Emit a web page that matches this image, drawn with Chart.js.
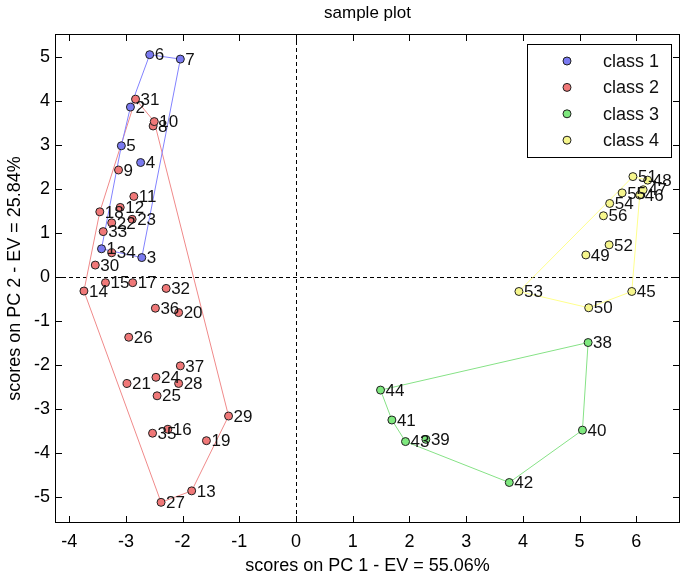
<!DOCTYPE html>
<html>
<head>
<meta charset="utf-8">
<script src="https://cdn.jsdelivr.net/npm/chart.js@4"></script>
<style>
  html, body { margin: 0; padding: 0; background: #fff; }
  #wrap { width: 685px; height: 577px; }
</style>
</head>
<body>
<div id="wrap"><canvas id="pcaChart"></canvas></div>
<script>
/* eslint-disable no-undef */

// sample numbers and scores (PC 1, PC 2) per class
const ids1 = [1, 2, 3, 4, 5, 6, 7]
const pc1Class1 = [-3.43, -2.92, -2.72, -2.74, -3.08, -2.58, -2.04]
const pc2Class1 = [0.64, 3.86, 0.44, 2.60, 2.98, 5.05, 4.95]

const ids2 = [8, 9, 10, 11, 12, 13, 14, 15, 16, 17, 18, 19, 20, 21, 22,
  23, 24, 25, 26, 27, 28, 29, 30, 31, 32, 33, 34, 35, 36, 37]
const pc1Class2 = [-2.52, -3.13, -2.50, -2.86, -3.10, -1.84, -3.74, -3.36, -2.26, -2.88,
  -3.46, -1.58, -2.07, -2.98, -3.25, -2.89, -2.47, -2.45, -2.95, -2.38,
  -2.07, -1.19, -3.54, -2.83, -2.29, -3.40, -3.25, -2.53, -2.48, -2.04]
const pc2Class2 = [3.43, 2.43, 3.53, 1.83, 1.58, -4.86, -0.32, -0.13, -3.46, -0.13,
  1.48, -3.72, -0.81, -2.42, 1.23, 1.31, -2.28, -2.70, -1.37, -5.12,
  -2.42, -3.16, 0.27, 4.04, -0.26, 1.03, 0.55, -3.55, -0.71, -2.02]

const ids3 = [38, 39, 40, 41, 42, 43, 44]
const pc1Class3 = [5.15, 2.29, 5.05, 1.69, 3.76, 1.93, 1.49]
const pc2Class3 = [-1.49, -3.69, -3.48, -3.25, -4.67, -3.74, -2.57]

const ids4 = [45, 46, 47, 48, 49, 50, 51, 52, 53, 54, 55, 56]
const pc1Class4 = [5.92, 6.06, 6.12, 6.20, 5.11, 5.16, 5.94, 5.52, 3.93, 5.53, 5.75, 5.42]
const pc2Class4 = [-0.33, 1.86, 1.98, 2.20, 0.50, -0.70, 2.28, 0.73, -0.33, 1.67, 1.91, 1.39]

// hull outline order (sample numbers)
const hull1 = [6, 7, 3, 1, 5, 2, 6]
const hull2 = [31, 10, 29, 13, 27, 14, 18, 31]
const hull3 = [38, 44, 41, 43, 42, 40, 38]
const hull4 = [53, 50, 45, 46, 48, 51, 53]

const classNames = ['class 1', 'class 2', 'class 3', 'class 4']
const fillColors = ['#7a7af0', '#f07878', '#7ee87e', '#f6f68c']
const lineColors = ['#8282ff', '#f08a8a', '#86e286', '#ffff8c']

const FONT = "'Liberation Sans', Arial, sans-serif"

function toPoints(ids, xs, ys) {
  return ids.map((id, i) => ({ x: xs[i], y: ys[i], id }))
}

function hullPoints(order, pts) {
  return order.map((id) => pts.find((p) => p.id === id))
}

const pts1 = toPoints(ids1, pc1Class1, pc2Class1)
const pts2 = toPoints(ids2, pc1Class2, pc2Class2)
const pts3 = toPoints(ids3, pc1Class3, pc2Class3)
const pts4 = toPoints(ids4, pc1Class4, pc2Class4)
const allPts = [pts1, pts2, pts3, pts4]
const hulls = [hull1, hull2, hull3, hull4]

const datasets = []
allPts.forEach((pts, i) => {
  datasets.push({
    label: classNames[i],
    data: pts,
    pointRadius: 4,
    pointBackgroundColor: fillColors[i],
    pointBorderColor: '#202020',
    pointBorderWidth: 1,
    showLine: false,
    isClass: true
  })
})
hulls.forEach((h, i) => {
  datasets.push({
    label: 'hull ' + (i + 1),
    data: hullPoints(h, allPts[i]),
    showLine: true,
    borderColor: lineColors[i],
    borderWidth: 1,
    pointRadius: 0,
    fill: false
  })
})

// box, inward ticks and dashed zero lines like the matlab plot
const framePlugin = {
  id: 'frame',
  beforeDatasetsDraw(chart) {
    const { ctx, chartArea: a, scales: { x, y } } = chart
    ctx.save()
    // title centred over the axes box
    ctx.font = '17px ' + FONT
    ctx.fillStyle = '#000'
    ctx.textAlign = 'center'
    ctx.textBaseline = 'middle'
    ctx.fillText('sample plot', (a.left + a.right) / 2, 13)

    ctx.strokeStyle = '#000'
    ctx.lineWidth = 1
    ctx.setLineDash([4, 3])
    const x0 = Math.round(x.getPixelForValue(0)) + 0.5
    const y0 = Math.round(y.getPixelForValue(0)) + 0.5
    ctx.beginPath()
    ctx.moveTo(x0, a.top)
    ctx.lineTo(x0, a.bottom)
    ctx.moveTo(a.left, y0)
    ctx.lineTo(a.right, y0)
    ctx.stroke()
    ctx.setLineDash([])
    ctx.beginPath()
    x.ticks.forEach((t) => {
      const px = Math.round(x.getPixelForValue(t.value)) + 0.5
      ctx.moveTo(px, a.bottom)
      ctx.lineTo(px, a.bottom - 7)
      ctx.moveTo(px, a.top)
      ctx.lineTo(px, a.top + 7)
    })
    y.ticks.forEach((t) => {
      const py = Math.round(y.getPixelForValue(t.value)) + 0.5
      ctx.moveTo(a.left, py)
      ctx.lineTo(a.left + 7, py)
      ctx.moveTo(a.right, py)
      ctx.lineTo(a.right - 7, py)
    })
    ctx.stroke()
    ctx.strokeRect(a.left + 0.5, a.top + 0.5, a.width - 1, a.height - 1)
    ctx.restore()
  },
  afterDatasetsDraw(chart) {
    const { ctx, chartArea: a } = chart
    ctx.save()
    // sample numbers next to the markers
    ctx.font = '17px ' + FONT
    ctx.fillStyle = '#111'
    ctx.textBaseline = 'middle'
    ctx.textAlign = 'left'
    chart.data.datasets.forEach((ds, di) => {
      if (!ds.isClass) return
      const meta = chart.getDatasetMeta(di)
      meta.data.forEach((el, i) => {
        ctx.fillText(String(ds.data[i].id), el.x + 5, el.y + 1)
      })
    })
    // legend box
    const bw = 144
    const bh = 113
    const bx = a.right - 9 - bw
    const by = a.top + 10
    ctx.fillStyle = '#fff'
    ctx.fillRect(bx, by, bw, bh)
    ctx.strokeStyle = '#000'
    ctx.lineWidth = 1
    ctx.strokeRect(Math.round(bx) + 0.5, Math.round(by) + 0.5, bw, bh)
    ctx.font = '18px ' + FONT
    classNames.forEach((name, i) => {
      const ry = by + 17 + i * 26.4
      ctx.beginPath()
      ctx.arc(bx + 40, ry, 4, 0, Math.PI * 2)
      ctx.fillStyle = fillColors[i]
      ctx.fill()
      ctx.strokeStyle = '#202020'
      ctx.stroke()
      ctx.fillStyle = '#111'
      ctx.fillText(name, bx + 76, ry + 1)
    })
    ctx.restore()
  }
}

const ctx = document.getElementById('pcaChart').getContext('2d')

const pcaChart = new Chart(ctx, {
  type: 'scatter',
  data: { datasets },
  options: {
    responsive: true,
    maintainAspectRatio: false,
    animation: false,
    layout: { padding: { left: 0, right: 3, top: 34, bottom: 0 } },
    plugins: {
      legend: { display: false },
      tooltip: { enabled: false },
      title: { display: false }
    },
    scales: {
      x: {
        type: 'linear',
        min: -4.25,
        max: 6.77,
        grid: { display: false, drawTicks: false },
        border: { display: false },
        ticks: {
          stepSize: 1,
          includeBounds: false,
          color: '#000',
          padding: 8,
          font: { family: FONT, size: 18 }
        },
        title: {
          display: true,
          text: 'scores on PC 1 - EV = 55.06%',
          color: '#000',
          font: { family: FONT, size: 18 },
          padding: { top: 0, bottom: 0 }
        },
        afterFit(scale) { scale.height = 54 }
      },
      y: {
        type: 'linear',
        min: -5.59,
        max: 5.52,
        grid: { display: false, drawTicks: false },
        border: { display: false },
        ticks: {
          stepSize: 1,
          includeBounds: false,
          color: '#000',
          padding: 5,
          font: { family: FONT, size: 18 }
        },
        title: {
          display: true,
          text: 'scores on PC 2 - EV = 25.84%',
          color: '#000',
          font: { family: FONT, size: 18 },
          padding: { top: 4, bottom: 0 }
        },
        afterFit(scale) { scale.width = 55 }
      }
    }
  },
  plugins: [framePlugin]
})
</script>
</body>
</html>
